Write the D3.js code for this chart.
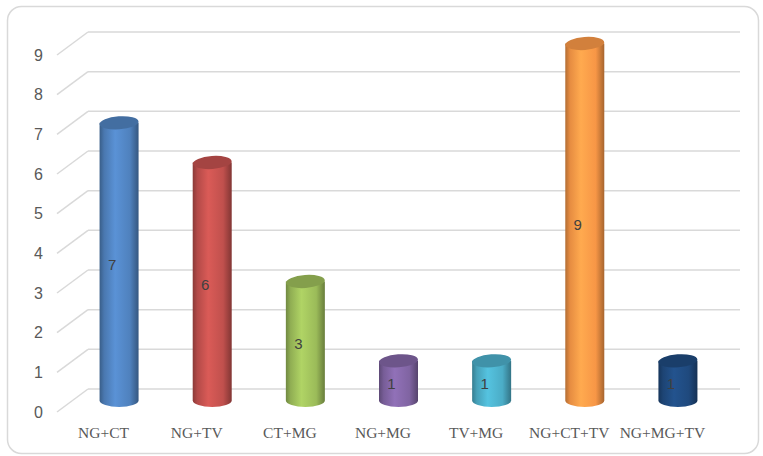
<!DOCTYPE html>
<html>
<head>
<meta charset="utf-8">
<script src="https://cdn.jsdelivr.net/npm/d3@7"></script>
<style>
    body { margin: 0; background: #fff; }
    .eje text { font-family: "Liberation Sans", Arial, sans-serif; font-size: 16px; fill: #595959; }
    .categoria { font-family: "Liberation Serif", serif; font-size: 15.5px; fill: #595959; }
    .valor { font-family: "Liberation Sans", sans-serif; font-size: 15px; fill: #404040; }
</style>
</head>
<body>
<div id="grafica"></div>
<script>
// Datos
const categorias = ["NG+CT", "NG+TV", "CT+MG", "NG+MG", "TV+MG", "NG+CT+TV", "NG+MG+TV"]
const valores = [7, 6, 3, 1, 1, 9, 1]
const ticks = [0, 1, 2, 3, 4, 5, 6, 7, 8, 9]
const colores = ["#4f81bd", "#c0504d", "#9bbb59", "#8064a2", "#4bacc6", "#f79646", "#1f497d"]

const anchoTotal = 763
const altoTotal = 456

// profundidad de la pared (efecto 3D)
const prof = { dx: -31, dy: 23 }

const svg = d3.select("#grafica").append("svg")
    .attr("width", anchoTotal)
    .attr("height", altoTotal)

// Marco
svg.append("rect")
    .attr("x", 7.5).attr("y", 6.5)
    .attr("width", 751).attr("height", 447)
    .attr("rx", 14)
    .attr("fill", "#fff")
    .attr("stroke", "#d9d9d9")
    .attr("stroke-width", 1.5)

// Escaladores (pared del fondo)
const y = d3.scaleLinear().domain([0, 9]).range([389, 32])
const x = d3.scaleBand()
    .domain(categorias)
    .range([88, 740])

// Rejilla
const rejilla = svg.append("g").attr("class", "eje")
ticks.forEach(t => {
    rejilla.append("line")
        .attr("x1", x.range()[0]).attr("x2", x.range()[1])
        .attr("y1", y(t)).attr("y2", y(t))
        .attr("stroke", "#d9d9d9").attr("stroke-width", 1.5)
    rejilla.append("line")
        .attr("x1", x.range()[0]).attr("y1", y(t))
        .attr("x2", x.range()[0] + prof.dx).attr("y2", y(t) + prof.dy)
        .attr("stroke", "#d9d9d9").attr("stroke-width", 1.5)
    rejilla.append("text")
        .attr("x", 43)
        .attr("y", y(t) + prof.dy)
        .attr("dy", "0.36em")
        .attr("text-anchor", "end")
        .text(t)
})

// Gradientes
const defs = svg.append("defs")
colores.forEach((c, i) => {
    const grad = defs.append("linearGradient")
        .attr("id", `grad${i}`)
        .attr("x1", 0).attr("x2", 1).attr("y1", 0).attr("y2", 0)
    const base = d3.color(c)
    grad.append("stop").attr("offset", "0%").attr("stop-color", base.darker(0.9))
    grad.append("stop").attr("offset", "12%").attr("stop-color", base.darker(0.2))
    grad.append("stop").attr("offset", "40%").attr("stop-color", base.brighter(0.35))
    grad.append("stop").attr("offset", "78%").attr("stop-color", base)
    grad.append("stop").attr("offset", "100%").attr("stop-color", base.darker(1.1))
})

// Cilindros a media profundidad
const rx = 19.5
const ry = 6.5
const cx = (d, i) => x(categorias[i]) + x.bandwidth() / 2 + prof.dx / 2
const cy = v => y(v) + prof.dy / 2

const barras = svg.append("g")
    .selectAll("g")
    .data(valores)
    .join("g")

barras.append("path")
    .attr("d", (d, i) => {
        const c = cx(d, i), yTop = cy(d), yBot = cy(0)
        return `M${c - rx},${yTop} L${c - rx},${yBot} A${rx},${ry} 0 0 0 ${c + rx},${yBot} L${c + rx},${yTop} Z`
    })
    .attr("fill", (d, i) => `url(#grad${i})`)

barras.append("ellipse")
    .attr("cx", (d, i) => cx(d, i))
    .attr("cy", d => cy(d))
    .attr("rx", rx)
    .attr("ry", ry)
    .attr("transform", (d, i) => `rotate(-4, ${cx(d, i)}, ${cy(d)})`)
    .attr("fill", (d, i) => d3.color(colores[i]).darker(0.45))

// Etiquetas de valor
barras.append("text")
    .attr("class", "valor")
    .attr("x", (d, i) => cx(d, i) - 7)
    .attr("y", d => (cy(d) + cy(0)) / 2 + 3)
    .attr("dy", "0.35em")
    .attr("text-anchor", "middle")
    .text(d => d)

// Etiquetas de categoria (plano frontal)
svg.append("g")
    .selectAll("text")
    .data(categorias)
    .join("text")
    .attr("class", "categoria")
    .attr("x", (d, i) => x(d) + x.bandwidth() / 2 + prof.dx)
    .attr("y", 433)
    .attr("dy", "0.35em")
    .attr("text-anchor", "middle")
    .text(d => d)
</script>
</body>
</html>
